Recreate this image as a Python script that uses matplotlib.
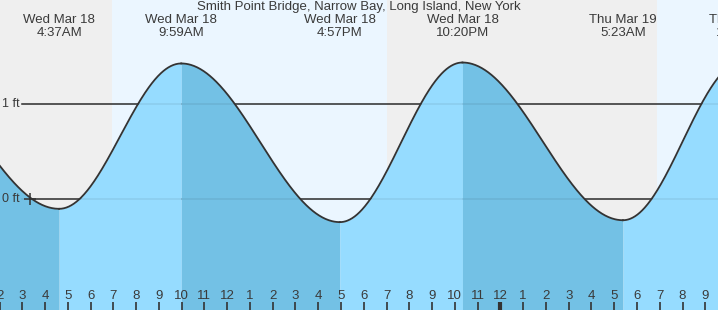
import numpy as np
import matplotlib.pyplot as plt
from matplotlib import transforms

# tide extremes, hours after midnight Wed Mar 18 (local), heights in ft
ext_times = [-2.42, 4.617, 9.983, 16.95, 22.333, 29.383, 34.65]
ext_heights = [1.40, -0.10, 1.43, -0.24, 1.44, -0.22, 1.45]
ext_labels = ["", "Wed Mar 18\n4:37AM", "Wed Mar 18\n9:59AM", "Wed Mar 18\n4:57PM",
              "Wed Mar 18\n10:20PM", "Thu Mar 19\n5:23AM", "Thu Mar 19\n10:39AM"]

# sunrise / sunset / sunrise
sun_times = [6.933, 19.033, 30.9]

hours = list(range(2, 34))
hour_labels = [str((h - 1) % 12 + 1) for h in hours]

title = "Smith Point Bridge, Narrow Bay, Long Island, New York"

x0, x1 = 2.0205, 33.558
y0, y1 = -1.165, 2.098

plt.rcParams['font.family'] = ['Liberation Sans', 'DejaVu Sans']
fig = plt.figure(figsize=(7.18, 3.10), dpi=100)
ax = fig.add_axes([0, 0, 1, 1])
ax.set_xlim(x0, x1)
ax.set_ylim(y0, y1)
ax.axis('off')
trans = transforms.blended_transform_factory(ax.transData, ax.transAxes)

# day / night background
ax.axvspan(x0, sun_times[0], color='#efefef', lw=0, zorder=0)
ax.axvspan(sun_times[0], sun_times[1], color='#ebf6ff', lw=0, zorder=0)
ax.axvspan(sun_times[1], sun_times[2], color='#efefef', lw=0, zorder=0)
ax.axvspan(sun_times[2], x1, color='#ebf6ff', lw=0, zorder=0)

# datum lines
line_start = x0 + 22 / 22.767
for lev in [0, 1]:
    ax.plot([line_start, x1], [lev, lev], color='#333333', lw=1.1, zorder=1)
    ax.plot([line_start, x1], [lev, lev], color='#000000', alpha=0.08, lw=1.1, zorder=3)
    ax.text(x0 + 2 / 22.767, lev, f"{lev} ft", ha='left', va='center',
            fontsize=9, color='#3a3a3a', zorder=4)
ax.plot([x0 + 30 / 22.767], [0], marker='+', ms=9, mew=1.1, color='#333333', zorder=4)

# tide curve: cosine between extremes
for i in range(len(ext_times) - 1):
    ta, tb = ext_times[i], ext_times[i + 1]
    ha, hb = ext_heights[i], ext_heights[i + 1]
    t = np.linspace(ta, tb, 200)
    h = ha + (hb - ha) * (1 - np.cos(np.pi * (t - ta) / (tb - ta))) / 2
    col = '#73c1e5' if hb < ha else '#96dcff'
    ax.fill_between(t, y0, h, color=col, lw=0, zorder=2)
    ax.plot(t, h, color='#333333', lw=1.3, zorder=5)

# extreme labels
for t, lab in zip(ext_times, ext_labels):
    if lab:
        ax.text(t, 1.0 - 14 / 310, lab, transform=trans,
                ha='center', va='top', fontsize=9.5, color='#3a3a3a', linespacing=1.12, zorder=6)

ax.text(0.5, 1.0 - 1 / 310, title, transform=ax.transAxes, ha='center', va='top',
        fontsize=9.5, color='#3a3a3a', zorder=6)

# hour ticks along the bottom
for h, lab in zip(hours, hour_labels):
    lw = 3 if h == 24 else 1.2
    ax.plot([h, h], [0, 8 / 310], transform=trans, color='#333333', lw=lw, zorder=6,
            solid_capstyle='butt')
    ax.text(h, 14 / 310, lab, transform=trans, ha='center', va='center',
            fontsize=9.5, color='#3a3a3a', zorder=6)

fig.savefig('out.png', dpi=100)
